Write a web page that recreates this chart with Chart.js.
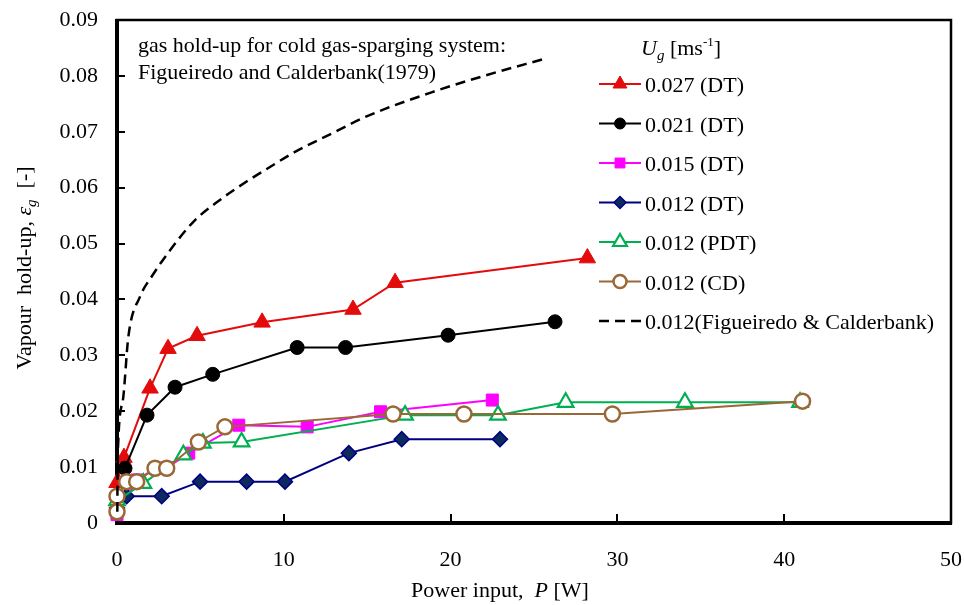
<!DOCTYPE html>
<html>
<head>
<meta charset="utf-8">
<script src="https://cdn.jsdelivr.net/npm/chart.js@4.4.1/dist/chart.umd.min.js"></script>
<style>
  html, body { margin: 0; padding: 0; background: #fff; }
  #wrap { width: 964px; height: 605px; }
</style>
</head>
<body>
<div id="wrap"><canvas id="c" width="964" height="605"></canvas></div>
<script>
// ---------------- data ----------------
const xTicks = [0, 10, 20, 30, 40, 50];
const yTicks = [0, 0.01, 0.02, 0.03, 0.04, 0.05, 0.06, 0.07, 0.08, 0.09];

const seriesLabels = ['0.027 (DT)', '0.021 (DT)', '0.015 (DT)', '0.012 (DT)', '0.012 (PDT)', '0.012 (CD)', '0.012(Figueiredo & Calderbank)'];

const P_027DT = [0, 0.42, 1.98, 3.06, 4.8, 8.7, 14.15, 16.67, 28.2];
const eps_027DT = [0.0072, 0.0117, 0.0241, 0.0312, 0.0335, 0.0359, 0.0382, 0.043, 0.0474];

const P_021DT = [0.48, 1.8, 3.48, 5.74, 10.8, 13.7, 19.85, 26.26];
const eps_021DT = [0.0098, 0.0193, 0.0243, 0.0266, 0.0314, 0.0314, 0.0336, 0.036];

const P_015DT = [0, 1.2, 2.3, 3.0, 4.3, 7.3, 11.4, 15.8, 22.5];
const eps_015DT = [0.0015, 0.0077, 0.0098, 0.0099, 0.0125, 0.0175, 0.0172, 0.0199, 0.022];

const P_012DT = [0, 0.58, 2.68, 4.98, 7.77, 10.07, 13.9, 17.07, 22.96];
const eps_012DT = [0.0027, 0.0048, 0.0048, 0.0074, 0.0074, 0.0074, 0.0125, 0.015, 0.015];

const P_012PDT = [0, 1.58, 3.98, 5.15, 7.47, 17.27, 22.84, 26.9, 34.05, 40.95];
const eps_012PDT = [0.004, 0.0071, 0.0122, 0.0143, 0.0145, 0.0193, 0.0193, 0.0216, 0.0216, 0.0216];

const P_012CD = [0, 0, 0.58, 1.18, 2.28, 2.98, 4.88, 6.47, 16.55, 20.8, 29.7, 41.1];
const eps_012CD = [0.002, 0.0048, 0.0074, 0.0074, 0.0098, 0.0098, 0.0145, 0.0172, 0.0195, 0.0195, 0.0195, 0.0218];

const P_FC = [0.02, 0.03, 0.08, 0.38, 0.68, 1.38, 2.08, 3.18, 4.58, 6.17, 7.77, 9.17, 10.67, 12.95, 15, 18.9, 22, 25.8];
const eps_FC = [0.002, 0.0077, 0.0148, 0.0226, 0.0333, 0.0405, 0.0441, 0.0488, 0.0539, 0.0578, 0.0611, 0.0637, 0.0664, 0.0698, 0.0728, 0.0771, 0.08, 0.0832];

const annotationLines = ['gas hold-up for cold gas-sparging system:', 'Figueiredo and Calderbank(1979)'];

// ---------------- helpers ----------------
const FONT = "'Liberation Serif', 'Times New Roman', Times, serif";
function pts(xs, ys) { return xs.map((v, i) => ({ x: v, y: ys[i] })); }

const styles = [
  { color: '#e30b0b', fill: '#e30b0b', style: 'triangle', r: 9.5, bw: 1, lr: 8 },
  { color: '#000000', fill: '#000000', style: 'circle', r: 7, bw: 1, lr: 5.5 },
  { color: '#ff00ff', fill: '#ff00ff', style: 'rect', r: 8.5, bw: 1, lr: 7 },
  { color: '#000080', fill: '#0d2a5e', style: 'rectRot', r: 7.5, bw: 1.5, lr: 6 },
  { color: '#00b050', fill: '#ffffff', style: 'triangle', r: 9, bw: 2.2, lr: 8 },
  { color: '#9a6836', fill: '#ffffff', style: 'circle', r: 7.5, bw: 2.5, lr: 6.5 },
];
const seriesData = [
  pts(P_027DT, eps_027DT), pts(P_021DT, eps_021DT), pts(P_015DT, eps_015DT),
  pts(P_012DT, eps_012DT), pts(P_012PDT, eps_012PDT), pts(P_012CD, eps_012CD)
];

const datasets = seriesData.map((d, i) => ({
  label: seriesLabels[i],
  data: d,
  showLine: true,
  borderColor: styles[i].color,
  backgroundColor: styles[i].fill,
  borderWidth: 2,
  pointStyle: styles[i].style,
  pointRadius: styles[i].r,
  pointBorderWidth: styles[i].bw,
  pointBorderColor: styles[i].color,
  pointBackgroundColor: styles[i].fill,
  tension: 0,
  clip: false,
  order: 10 - i
}));
datasets.push({
  label: seriesLabels[6],
  data: pts(P_FC, eps_FC),
  showLine: true,
  borderColor: '#000',
  borderWidth: 2.5,
  borderDash: [10, 6],
  pointRadius: 0,
  cubicInterpolationMode: 'monotone',
  clip: false,
  order: 1
});

function drawMarker(ctx, s, x, y, r) {
  ctx.save();
  ctx.fillStyle = s.fill; ctx.strokeStyle = s.color; ctx.lineWidth = s.bw;
  ctx.beginPath();
  if (s.style === 'circle') {
    ctx.arc(x, y, r, 0, Math.PI * 2);
  } else if (s.style === 'triangle') {
    ctx.moveTo(x, y - r);
    ctx.lineTo(x + r * Math.sin(2 * Math.PI / 3), y - r * Math.cos(2 * Math.PI / 3));
    ctx.lineTo(x + r * Math.sin(4 * Math.PI / 3), y - r * Math.cos(4 * Math.PI / 3));
    ctx.closePath();
  } else if (s.style === 'rect') {
    const h = r * Math.SQRT1_2; ctx.rect(x - h, y - h, 2 * h, 2 * h);
  } else if (s.style === 'rectRot') {
    ctx.moveTo(x, y - r); ctx.lineTo(x + r, y); ctx.lineTo(x, y + r); ctx.lineTo(x - r, y); ctx.closePath();
  }
  ctx.fill(); ctx.stroke();
  ctx.restore();
}

function runsWidth(ctx, runs) {
  let w = 0;
  runs.forEach(r => { ctx.font = (r.italic ? 'italic ' : '') + r.size + 'px ' + FONT; w += ctx.measureText(r.t).width; });
  return w;
}
function drawRuns(ctx, runs, x, y) {
  runs.forEach(r => {
    ctx.font = (r.italic ? 'italic ' : '') + r.size + 'px ' + FONT;
    ctx.fillText(r.t, x, y + (r.dy || 0));
    x += ctx.measureText(r.t).width;
  });
  return x;
}

const framePlugin = {
  id: 'frame',
  beforeDatasetsDraw(chart) {
    const { ctx, chartArea: a, scales: { x, y } } = chart;
    ctx.save();
    ctx.strokeStyle = '#000';
    ctx.lineWidth = 2.5;
    ctx.strokeRect(a.left, a.top, a.right - a.left, a.bottom - a.top);
    ctx.lineWidth = 2;
    y.ticks.forEach(t => {
      const py = Math.round(y.getPixelForValue(t.value));
      ctx.beginPath(); ctx.moveTo(a.left, py); ctx.lineTo(a.left + 8, py); ctx.stroke();
    });
    x.ticks.forEach(t => {
      const px = Math.round(x.getPixelForValue(t.value));
      ctx.beginPath(); ctx.moveTo(px, a.bottom); ctx.lineTo(px, a.bottom - 9); ctx.stroke();
    });
    ctx.lineWidth = 4;
    ctx.beginPath(); ctx.moveTo(a.left, a.top - 1); ctx.lineTo(a.left, a.bottom + 2); ctx.stroke();
    ctx.beginPath(); ctx.moveTo(a.left - 2, a.bottom); ctx.lineTo(a.right + 1, a.bottom); ctx.stroke();
    ctx.restore();
  },
  afterDraw(chart) {
    const { ctx } = chart;
    ctx.save();
    ctx.fillStyle = '#000';
    ctx.textBaseline = 'alphabetic';
    ctx.textAlign = 'left';

    ctx.font = '22px ' + FONT;
    ctx.fillText(annotationLines[0], 138, 52);
    ctx.fillText(annotationLines[1], 138, 79);

    drawRuns(ctx, [
      { t: 'U', italic: true, size: 22 },
      { t: 'g', italic: true, size: 15, dy: 5 },
      { t: ' [ms', size: 22 },
      { t: '-1', size: 13, dy: -9 },
      { t: ']', size: 22 }
    ], 641, 55);

    const lx0 = 599, lx1 = 641, tx = 645, y0 = 84, dy = 39.5;
    chart.data.datasets.forEach((ds, i) => {
      const yy = y0 + i * dy;
      ctx.save();
      ctx.strokeStyle = ds.borderColor;
      ctx.lineWidth = ds.borderWidth;
      if (ds.borderDash) ctx.setLineDash([10, 6]);
      ctx.beginPath(); ctx.moveTo(lx0, yy); ctx.lineTo(lx1, yy); ctx.stroke();
      ctx.restore();
      if (i < styles.length) drawMarker(ctx, styles[i], (lx0 + lx1) / 2, yy, styles[i].lr);
      ctx.font = '22px ' + FONT;
      ctx.fillStyle = '#000';
      ctx.fillText(ds.label, tx, yy + 8);
    });

    const xr = [
      { t: 'Power input,  ', size: 22 },
      { t: 'P', italic: true, size: 22 },
      { t: ' [W]', size: 22 }
    ];
    const xw = runsWidth(ctx, xr);
    drawRuns(ctx, xr, 500 - xw / 2, 597);

    const yr = [
      { t: 'Vapour  hold-up, ', size: 22 },
      { t: 'ε', italic: true, size: 22 },
      { t: 'g', italic: true, size: 15, dy: 5 },
      { t: '  [-]', size: 22 }
    ];
    const yw = runsWidth(ctx, yr);
    ctx.translate(31, 268);
    ctx.rotate(-Math.PI / 2);
    drawRuns(ctx, yr, -yw / 2, 0);
    ctx.restore();
  }
};

Chart.defaults.font.family = FONT;
Chart.defaults.font.size = 22;
Chart.defaults.color = '#000';

new Chart(document.getElementById('c'), {
  type: 'scatter',
  data: { datasets },
  options: {
    responsive: false,
    animation: false,
    devicePixelRatio: 1,
    layout: { padding: { top: 20, right: 13, left: 0, bottom: 0 } },
    plugins: { legend: { display: false }, tooltip: { enabled: false } },
    scales: {
      x: {
        type: 'linear', min: xTicks[0], max: xTicks[xTicks.length - 1],
        afterBuildTicks: s => { s.ticks = xTicks.map(v => ({ value: v })); },
        ticks: { padding: 24, maxRotation: 0, autoSkip: false, callback: v => String(v), font: { size: 22 } },
        grid: { display: false, drawTicks: false },
        border: { display: false },
        afterFit: s => { s.height = 82; s.paddingLeft = 0; s.paddingRight = 0; }
      },
      y: {
        type: 'linear', min: yTicks[0], max: yTicks[yTicks.length - 1],
        afterBuildTicks: s => { s.ticks = yTicks.map(v => ({ value: v })); },
        ticks: { padding: 19, autoSkip: false, callback: v => (v === 0 ? '0' : v.toFixed(2)), font: { size: 22 } },
        grid: { display: false, drawTicks: false },
        border: { display: false },
        afterFit: s => { s.width = 117; s.paddingTop = 0; s.paddingBottom = 0; }
      }
    }
  },
  plugins: [framePlugin]
});
</script>
</body>
</html>
